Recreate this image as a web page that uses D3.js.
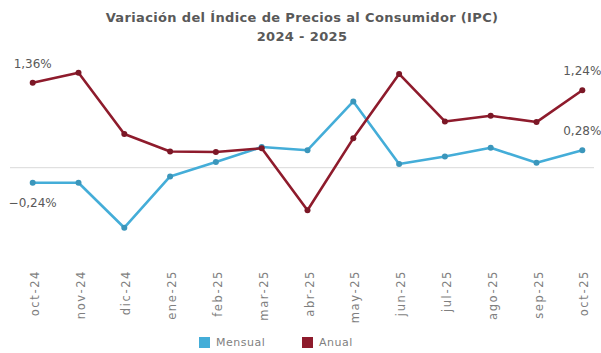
<!DOCTYPE html>
<html>
<head>
<meta charset="utf-8">
<script src="https://cdn.jsdelivr.net/npm/d3@7"></script>
<style>
  html, body { margin: 0; padding: 0; background: #fff; }
  svg { display: block; font-family: "DejaVu Sans", sans-serif; }
</style>
</head>
<body>
<svg id="chart" width="601" height="353"></svg>
<script>
// Months shown on the x axis
const months = ["oct-24", "nov-24", "dic-24", "ene-25", "feb-25", "mar-25", "abr-25",
                "may-25", "jun-25", "jul-25", "ago-25", "sep-25", "oct-25"];
// Monthly and annual CPI variation, in percent
const mensual = [-0.24, -0.24, -0.96, -0.14, 0.09, 0.33, 0.28, 1.06, 0.06, 0.18, 0.32, 0.08, 0.28];
const anual   = [1.36, 1.52, 0.54, 0.26, 0.25, 0.31, -0.68, 0.47, 1.50, 0.74, 0.83, 0.73, 1.24];
const seriesNames = ["Mensual", "Anual"];
const titleLines = ["Variación del Índice de Precios al Consumidor (IPC)", "2024 - 2025"];

const colors = { Mensual: "#44ADD8", Anual: "#8E1B2C" };
const fmt = v => d3.format(".2f")(v).replace(".", ",") + "%";

const svg = d3.select("#chart");

const x = d3.scalePoint().domain(months).range([32.7, 582.3]);
const y = d3.scaleLinear().domain([0, 1]).range([167.7, 105.2]);

// Title
svg.append("g").selectAll("text").data(titleLines).join("text")
  .attr("x", 302).attr("y", (d, i) => 22 + i * 19)
  .attr("text-anchor", "middle")
  .attr("font-size", 13).attr("font-weight", "bold")
  .attr("letter-spacing", 0.35)
  .attr("fill", "#595959")
  .text(d => d);

// Zero line
svg.append("line")
  .attr("x1", 10).attr("x2", 594)
  .attr("y1", y(0)).attr("y2", y(0))
  .attr("stroke", "#d9d9d9").attr("stroke-width", 1);

// X axis labels (rotated)
const xAxis = d3.axisBottom(x).tickSize(0).tickPadding(0);
const gx = svg.append("g").attr("transform", "translate(1.5,270)").call(xAxis);
gx.select(".domain").remove();
gx.selectAll("text")
  .attr("transform", "rotate(-90)")
  .attr("text-anchor", "end")
  .attr("x", 0).attr("y", 0).attr("dy", "0.35em")
  .attr("font-family", "DejaVu Sans, sans-serif")
  .attr("font-size", 11.5).attr("letter-spacing", 1.6)
  .attr("fill", "#7f7f7f");

const line = d3.line().x((d, i) => x(months[i])).y(d => y(d));

const series = [
  { name: "Mensual", values: mensual },
  { name: "Anual", values: anual }
];

series.forEach(s => {
  svg.append("path")
    .datum(s.values)
    .attr("d", line)
    .attr("fill", "none")
    .attr("stroke", colors[s.name])
    .attr("stroke-width", 2.6)
    .attr("stroke-linejoin", "round");
  svg.append("g").selectAll("circle").data(s.values).join("circle")
    .attr("cx", (d, i) => x(months[i]))
    .attr("cy", d => y(d))
    .attr("r", 3)
    .attr("fill", d3.color(colors[s.name]).darker(0.4));
});

// Data labels on first and last points
const labels = [
  { v: anual[0], i: 0, dy: -15 },
  { v: mensual[0], i: 0, dy: 24 },
  { v: anual[12], i: 12, dy: -15 },
  { v: mensual[12], i: 12, dy: -15 }
];
svg.append("g").selectAll("text").data(labels).join("text")
  .attr("x", d => x(months[d.i]))
  .attr("y", d => y(d.v) + d.dy)
  .attr("text-anchor", "middle")
  .attr("font-size", 12).attr("fill", "#595959")
  .text(d => fmt(d.v));

// Legend
const legend = svg.append("g").attr("transform", "translate(199,337)");
const items = legend.selectAll("g").data(seriesNames).join("g")
  .attr("transform", (d, i) => `translate(${i * 103},0)`);
items.append("rect").attr("width", 11).attr("height", 11)
  .attr("fill", d => colors[d]);
items.append("text").attr("x", 17).attr("y", 5.5).attr("dy", "0.35em")
  .attr("font-size", 11).attr("letter-spacing", 0.5).attr("fill", "#7f7f7f")
  .text(d => d);
</script>
</body>
</html>
